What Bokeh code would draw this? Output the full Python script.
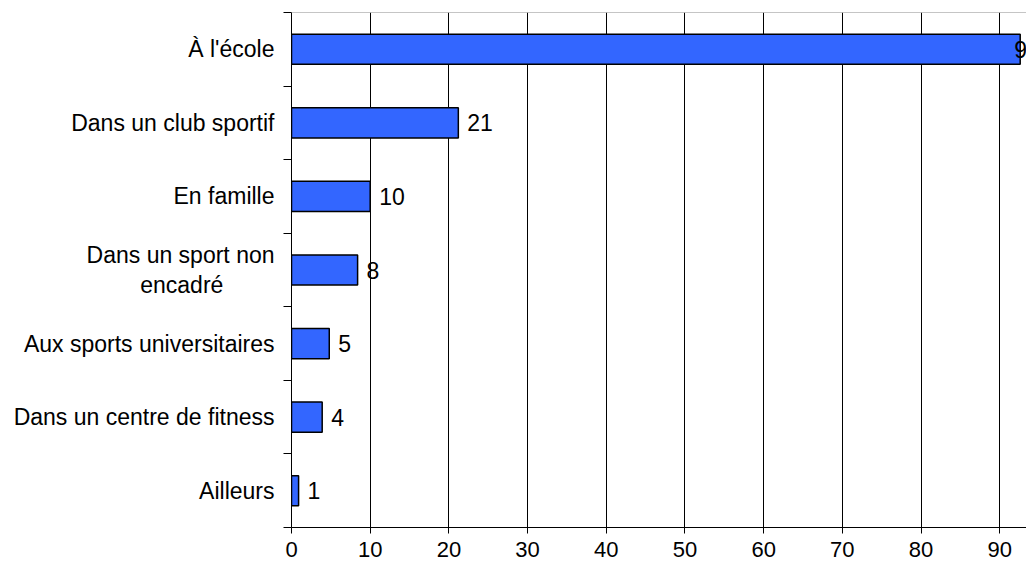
from bokeh.plotting import figure
from bokeh.models import ColumnDataSource, FixedTicker, LabelSet, Span, Range1d
from bokeh.core.properties import value
from bokeh.embed import file_html
from bokeh.resources import INLINE

categories = ["À l'école", "Dans un club sportif", "En famille",
              "Dans un sport non\nencadré", "Aux sports universitaires",
              "Dans un centre de fitness", "Ailleurs"]
values = [92.6, 21.2, 10.0, 8.4, 4.8, 3.9, 0.9]
value_labels = ["93", "21", "10", "8", "5", "4", "1"]
x_ticks = [0, 10, 20, 30, 40, 50, 60, 70, 80, 90]

n = len(categories)
x_end = 93.4
ys = [n - i - 0.5 for i in range(n)]
offsets = [9 if v + 2.5 < x_end else -6 for v in values]

src = ColumnDataSource(dict(y=ys, v=values, lab=value_labels, off=offsets))

FONT = "Liberation Sans"
FS = "23px"
FS_X = "22px"


def centre_lines(label):
    """Pad shorter lines with no-break spaces so right-aligned lines look centred."""
    lines = label.split("\n")
    if len(lines) == 1:
        return label
    longest = max(len(l) for l in lines)
    out = []
    for l in lines:
        pad = int((longest - len(l)) * 0.8)
        out.append(l + "\u00a0" * pad)
    return "\n".join(out)


p = figure(width=1026, height=567, output_backend="svg", toolbar_location=None,
           x_range=Range1d(0, x_end), y_range=Range1d(0, n),
           min_border_left=291, min_border_right=0, min_border_top=12,
           min_border_bottom=40)
p.outline_line_color = None
p.background_fill_color = "white"
p.border_fill_color = "white"

p.hbar(y="y", right="v", left=0, height=0.41, source=src,
       fill_color="#3366ff", line_color="black", line_width=1.5)

labels = LabelSet(x="v", y="y", text="lab", source=src, x_offset="off",
                  text_baseline="middle", text_font=value(FONT), text_font_size=FS,
                  text_color="black")
p.add_layout(labels)

p.add_layout(Span(location=n, dimension="width", line_color="#8c8c8c", line_width=1))

# grids
p.ygrid.visible = False
p.xgrid.ticker = FixedTicker(ticks=x_ticks)
p.xgrid.grid_line_color = "black"
p.xgrid.grid_line_width = 1

# x axis
xa = p.xaxis[0]
xa.ticker = FixedTicker(ticks=x_ticks)
xa.major_tick_out = 6
xa.major_tick_in = 0
xa.minor_tick_out = 0
xa.minor_tick_in = 0
xa.axis_line_color = "black"
xa.major_tick_line_color = "black"
xa.major_label_text_font = FONT
xa.major_label_text_font_size = FS_X
xa.major_label_text_color = "black"
xa.major_label_standoff = 8

# y axis
ya = p.yaxis[0]
ya.ticker = FixedTicker(ticks=ys, minor_ticks=list(range(n + 1)))
ya.major_label_overrides = {y: centre_lines(c) for y, c in zip(ys, categories)}
ya.major_tick_out = 0
ya.major_tick_in = 0
ya.minor_tick_out = 8
ya.minor_tick_in = 0
ya.minor_tick_line_color = "black"
ya.axis_line_color = "black"
ya.major_label_text_font = FONT
ya.major_label_text_font_size = FS
ya.major_label_text_color = "black"
ya.major_label_text_line_height = 1.15
ya.major_label_standoff = 9

open("out.html", "w").write(file_html(p, INLINE))
